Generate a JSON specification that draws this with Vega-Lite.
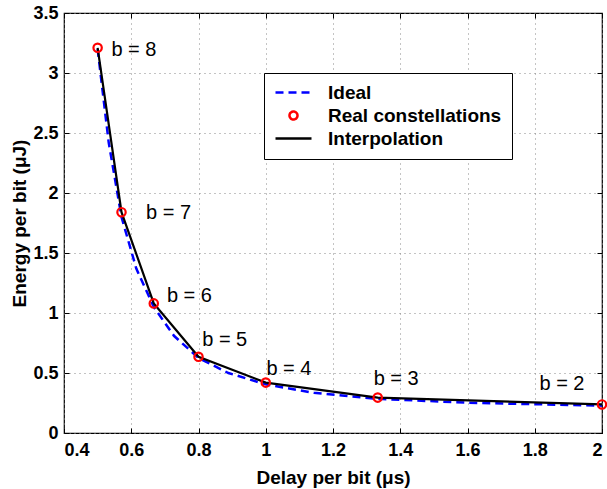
{
  "$schema": "https://vega.github.io/schema/vega-lite/v6.json",
  "width": 538,
  "height": 420,
  "autosize": {"type": "none"},
  "padding": {"left": 64, "top": 13, "right": 5, "bottom": 56},
  "background": "white",
  "config": {
    "view": {"stroke": "black", "strokeWidth": 1.2},
    "font": "Liberation Sans",
    "axis": {
      "grid": true,
      "gridColor": "#888888",
      "gridDash": [1, 4],
      "gridWidth": 1,
      "domain": false,
      "tickColor": "black",
      "tickSize": -5,
      "tickWidth": 1,
      "labelFont": "Liberation Sans",
      "labelFontWeight": "bold",
      "labelFontSize": 18,
      "labelColor": "black",
      "titleFont": "Liberation Sans",
      "titleFontWeight": "bold",
      "titleFontSize": 19,
      "titleColor": "black"
    }
  },
  "datasets": {
    "ideal": [
      {"series": "Ideal", "delay": 0.5, "energy": 3.2},
      {"series": "Ideal", "delay": 0.533, "energy": 2.42},
      {"series": "Ideal", "delay": 0.571, "energy": 1.8},
      {"series": "Ideal", "delay": 0.615, "energy": 1.37},
      {"series": "Ideal", "delay": 0.667, "energy": 1.05},
      {"series": "Ideal", "delay": 0.727, "energy": 0.81},
      {"series": "Ideal", "delay": 0.8, "energy": 0.625},
      {"series": "Ideal", "delay": 0.889, "energy": 0.5},
      {"series": "Ideal", "delay": 1.0, "energy": 0.405},
      {"series": "Ideal", "delay": 1.143, "energy": 0.335},
      {"series": "Ideal", "delay": 1.333, "energy": 0.285},
      {"series": "Ideal", "delay": 1.6, "energy": 0.252},
      {"series": "Ideal", "delay": 2.0, "energy": 0.228}
    ],
    "real": [
      {"series": "Real constellations", "b": "b = 8", "delay": 0.5, "energy": 3.21, "lx": 0.541, "ly": 3.19},
      {"series": "Real constellations", "b": "b = 7", "delay": 0.571, "energy": 1.84, "lx": 0.644, "ly": 1.835},
      {"series": "Real constellations", "b": "b = 6", "delay": 0.667, "energy": 1.08, "lx": 0.706, "ly": 1.14},
      {"series": "Real constellations", "b": "b = 5", "delay": 0.8, "energy": 0.635, "lx": 0.811, "ly": 0.775},
      {"series": "Real constellations", "b": "b = 4", "delay": 1.0, "energy": 0.42, "lx": 1.002, "ly": 0.535},
      {"series": "Real constellations", "b": "b = 3", "delay": 1.333, "energy": 0.295, "lx": 1.321, "ly": 0.45},
      {"series": "Real constellations", "b": "b = 2", "delay": 2.0, "energy": 0.238, "lx": 1.814, "ly": 0.405}
    ]
  },
  "layer": [
    {
      "data": {"name": "ideal"},
      "mark": {"type": "line", "strokeDash": [8, 5], "strokeWidth": 2.5, "clip": true},
      "encoding": {
        "x": {"field": "delay", "type": "quantitative", "scale": {"domain": [0.4, 2], "nice": false, "zero": false},
              "axis": {"orient": "bottom", "values": [0.4, 0.6, 0.8, 1, 1.2, 1.4, 1.6, 1.8, 2], "format": "~g", "title": "Delay per bit (μs)", "labelPadding": 13, "titlePadding": 9}},
        "y": {"field": "energy", "type": "quantitative", "scale": {"domain": [0, 3.5], "nice": false},
              "axis": {"orient": "left", "values": [0, 0.5, 1, 1.5, 2, 2.5, 3, 3.5], "format": "~g", "title": "Energy per bit (μJ)", "labelPadding": 11, "titlePadding": 3}},
        "color": {"field": "series", "type": "nominal",
          "scale": {"domain": ["Ideal", "Real constellations", "Interpolation"], "range": ["#0000ff", "#ff0000", "#000000"]},
          "legend": {
            "title": null,
            "orient": "none",
            "legendX": 200,
            "legendY": 60,
            "direction": "vertical",
            "fillColor": "white",
            "strokeColor": "black",
            "padding": 10,
            "symbolType": "circle",
            "symbolSize": 64,
            "symbolOffset": 10,
            "symbolStrokeWidth": 2.5,
            "labelFont": "Liberation Sans",
            "labelFontWeight": "bold",
            "labelFontSize": 19,
            "labelColor": "black",
            "labelLimit": 400,
            "labelOffset": 25,
            "rowPadding": 3,
            "encode": {
              "symbols": {
                "update": {
                  "shape": {"signal": "datum.value === 'Real constellations' ? 'circle' : 'M-4.5,0H4.5'"},
                  "size": {"value": 64},
                  "strokeDash": {"signal": "datum.value === 'Ideal' ? [8, 5] : [1, 0]"},
                  "fill": {"value": "transparent"}
                }
              }
            }
          }
        }
      }
    },
    {
      "data": {"name": "real"},
      "mark": {"type": "line", "color": "black", "strokeWidth": 2.2},
      "encoding": {
        "x": {"field": "delay", "type": "quantitative", "axis": {"orient": "top", "labels": false, "title": null, "grid": false, "values": [0.4, 0.6, 0.8, 1, 1.2, 1.4, 1.6, 1.8, 2]}},
        "y": {"field": "energy", "type": "quantitative", "axis": {"orient": "right", "labels": false, "title": null, "grid": false, "values": [0, 0.5, 1, 1.5, 2, 2.5, 3, 3.5]}}
      }
    },
    {
      "data": {"name": "real"},
      "mark": {"type": "point", "filled": false, "color": "#ff0000", "strokeWidth": 2.2, "size": 70, "opacity": 1, "clip": false},
      "encoding": {
        "x": {"field": "delay", "type": "quantitative", "axis": null},
        "y": {"field": "energy", "type": "quantitative", "axis": null}
      }
    },
    {
      "data": {"name": "real"},
      "mark": {"type": "text", "align": "left", "baseline": "middle", "font": "Liberation Sans", "fontSize": 20, "color": "black"},
      "encoding": {
        "x": {"field": "lx", "type": "quantitative", "axis": null},
        "y": {"field": "ly", "type": "quantitative", "axis": null},
        "text": {"field": "b", "type": "nominal"}
      }
    }
  ],
  "resolve": {"axis": {"x": "independent", "y": "independent"}}
}
